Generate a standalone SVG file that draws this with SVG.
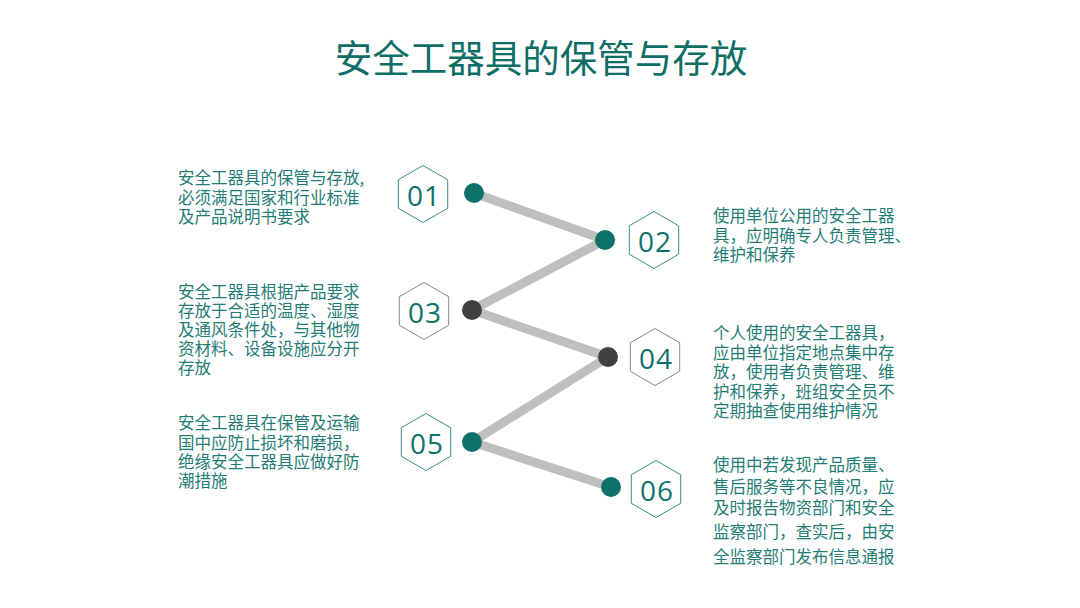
<svg xmlns="http://www.w3.org/2000/svg" width="1080" height="608" viewBox="0 0 1080 608">
<style>
.title{font-family:"Noto Sans CJK SC","Noto Sans",sans-serif;font-size:37.5px;fill:#0e6e66;}
.body{font-family:"Noto Sans CJK SC","Noto Sans",sans-serif;font-size:16.5px;fill:#1f7d75;}
.num{font-family:"Open Sans","Noto Sans",sans-serif;font-size:28px;text-anchor:middle;letter-spacing:1px;}
.teal .hexs{fill:#ffffff;stroke:#3a8f86;stroke-width:1;}
.gray .hexs{fill:#ffffff;stroke:#8a8a8a;stroke-width:1;}
.num{fill:#0e716a;}
.link{fill:none;stroke:#bfbfbf;stroke-width:9;stroke-linejoin:miter;}
.dt{fill:#0e716a;}
.dg{fill:#404040;}
</style>
<defs>
<polygon id="hex" points="0,-28.5 24.7,-14.25 24.7,14.25 0,28.5 -24.7,14.25 -24.7,-14.25"/>
</defs>
<rect width="1080" height="608" fill="#ffffff"/>
<text class="title" x="541" y="72" text-anchor="middle">安全工器具的保管与存放</text>

<g id="connectors">
<polyline class="link" points="474,193 605,240 472,310 608,357 472,442 611,487"/>
</g>

<g id="node01" class="teal">
<use href="#hex" class="hexs" x="423" y="194"/>
<text class="num" x="424" y="206">01</text>
<circle class="dt" cx="474" cy="193" r="10"/>
<text class="body"><tspan x="178" y="184">安全工器具的保管与存放,</tspan><tspan x="178" y="204">必须满足国家和行业标准</tspan><tspan x="178" y="223">及产品说明书要求</tspan></text>
</g>
<g id="node02" class="teal">
<use href="#hex" class="hexs" x="654" y="240"/>
<text class="num" x="655" y="252">02</text>
<circle class="dt" cx="605" cy="240" r="10"/>
<text class="body"><tspan x="713" y="222">使用单位公用的安全工器</tspan><tspan x="713" y="242">具，应明确专人负责管理、</tspan><tspan x="713" y="261">维护和保养</tspan></text>
</g>
<g id="node03" class="gray">
<use href="#hex" class="hexs" x="424" y="311"/>
<text class="num" x="425" y="323">03</text>
<circle class="dg" cx="472" cy="310" r="10"/>
<text class="body"><tspan x="178" y="298">安全工器具根据产品要求</tspan><tspan x="178" y="317">存放于合适的温度、湿度</tspan><tspan x="178" y="336">及通风条件处，与其他物</tspan><tspan x="178" y="355">资材料、设备设施应分开</tspan><tspan x="178" y="374">存放</tspan></text>
</g>
<g id="node04" class="gray">
<use href="#hex" class="hexs" x="655" y="357"/>
<text class="num" x="656" y="369">04</text>
<circle class="dg" cx="608" cy="357" r="10"/>
<text class="body"><tspan x="713" y="339">个人使用的安全工器具，</tspan><tspan x="713" y="359">应由单位指定地点集中存</tspan><tspan x="713" y="378">放，使用者负责管理、维</tspan><tspan x="713" y="398">护和保养，班组安全员不</tspan><tspan x="713" y="417">定期抽查使用维护情况</tspan></text>
</g>
<g id="node05" class="teal">
<use href="#hex" class="hexs" x="426" y="442"/>
<text class="num" x="427" y="454">05</text>
<circle class="dt" cx="472" cy="442" r="10"/>
<text class="body"><tspan x="178" y="429">安全工器具在保管及运输</tspan><tspan x="178" y="449">国中应防止损坏和磨损，</tspan><tspan x="178" y="468">绝缘安全工器具应做好防</tspan><tspan x="178" y="487">潮措施</tspan></text>
</g>
<g id="node06" class="teal">
<use href="#hex" class="hexs" x="656" y="489"/>
<text class="num" x="657" y="501">06</text>
<circle class="dt" cx="611" cy="487" r="10"/>
<text class="body"><tspan x="713" y="471">使用中若发现产品质量、</tspan><tspan x="713" y="493">售后服务等不良情况，应</tspan><tspan x="713" y="514">及时报告物资部门和安全</tspan><tspan x="713" y="538">监察部门，查实后，由安</tspan><tspan x="713" y="563">全监察部门发布信息通报</tspan></text>
</g>
</svg>
